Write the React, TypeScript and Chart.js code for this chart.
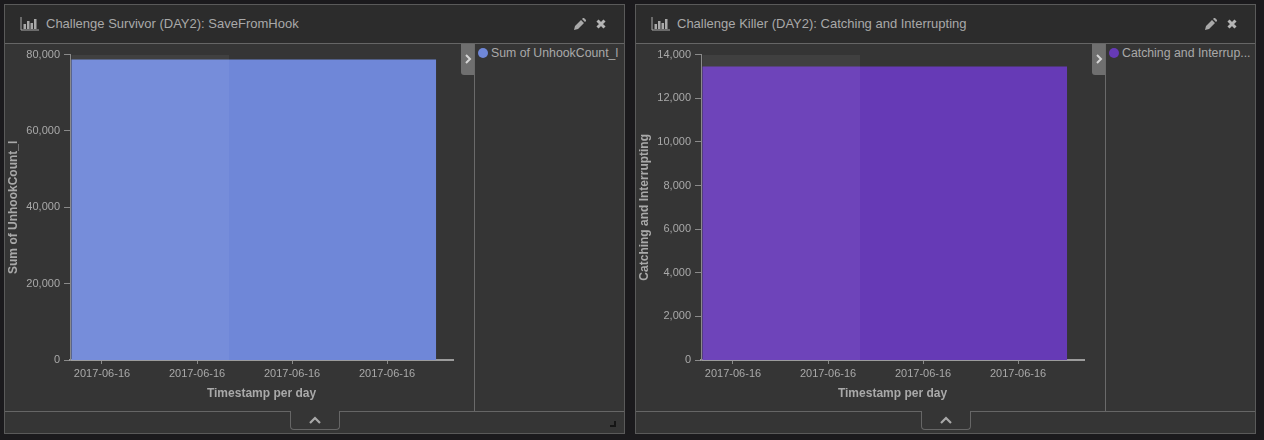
import React, { useEffect, useRef } from "react";
import { Chart, registerables } from "chart.js";

Chart.register(...registerables);

const dateTickPositions = [3, 6, 9, 12];
const dateTickLabel = "2017-06-16";
const xAxisRange = [1.99, 14.08];
const barSpan = [2.03, 13.55];
const hoverSpan = [2.03, 7.01];
const survivorValue = 78700;
const killerValue = 13450;
const survivorMax = 80000;
const killerMax = 14000;
const survivorStep = 20000;
const killerStep = 2000;

const FONT = "'Liberation Sans', Arial, sans-serif";

function Plot({ value, max, step, color, yTitle }: { value: number; max: number; step: number; color: string; yTitle: string }) {
  const ref = useRef<HTMLCanvasElement>(null);
  useEffect(() => {
    const chart = new Chart(ref.current!, {
      type: "line",
      data: {
        datasets: [
          {
            data: hoverSpan.map((x) => ({ x, y: max })),
            borderWidth: 0,
            pointRadius: 0,
            backgroundColor: "rgba(255,255,255,0.055)",
            fill: "origin",
          },
          {
            data: barSpan.map((x) => ({ x, y: value })),
            borderWidth: 0,
            pointRadius: 0,
            backgroundColor: color,
            fill: "origin",
          },
        ],
      },
      options: {
        responsive: false,
        animation: false,
        layout: { padding: { top: 10, right: 9, bottom: 4, left: 0 } },
        plugins: { legend: { display: false }, tooltip: { enabled: false } },
        scales: {
          x: {
            type: "linear",
            min: xAxisRange[0],
            max: xAxisRange[1],
            afterBuildTicks: (s: any) => {
              s.ticks = dateTickPositions.map((v) => ({ value: v }));
            },
            afterFit: (s: any) => {
              s.height = 47;
            },
            grid: { drawOnChartArea: false, color: "#8a8a8a", tickLength: 4 },
            border: { color: "#9c9c9c", width: 2 },
            ticks: {
              autoSkip: false,
              maxRotation: 0,
              padding: 3,
              color: "#a9a9a9",
              font: { family: FONT, size: 11 },
              callback: () => dateTickLabel,
            },
            title: {
              display: true,
              text: "Timestamp per day",
              color: "#a9a9a9",
              font: { family: FONT, size: 12, weight: "bold" },
              padding: { top: 5, bottom: 6 },
            },
          },
          y: {
            min: 0,
            max,
            afterFit: (s: any) => {
              s.width = 64;
            },
            grid: { drawOnChartArea: false, color: "#8a8a8a", tickLength: 6 },
            border: { color: "#8a8a8a", width: 1 },
            ticks: {
              stepSize: step,
              padding: 4,
              color: "#a9a9a9",
              font: { family: FONT, size: 11 },
              callback: (v: any) => Number(v).toLocaleString("en-US"),
            },
            title: {
              display: true,
              text: yTitle,
              color: "#a9a9a9",
              font: { family: FONT, size: 12, weight: "bold" },
              padding: { top: 0, bottom: 0 },
            },
          },
        },
      },
    } as any);
    return () => chart.destroy();
  }, []);
  return <canvas ref={ref} width={456} height={367} style={{ position: "absolute", left: 1, top: 39, display: "block" }} />;
}

const abs = (o: React.CSSProperties): React.CSSProperties => ({ position: "absolute", ...o });

function Panel({ left, title, legend, legendColor, value, max, step, color, yTitle, resize }: any) {
  return (
    <div style={abs({ left, top: 4, width: 621, height: 430, background: "#353535", border: "1px solid #5a5a5a", boxSizing: "border-box", fontFamily: FONT })}>
      <div style={abs({ left: 0, top: 0, width: 619, height: 39, background: "#2c2c2c", borderBottom: "1px solid #666", boxSizing: "border-box" })} />
      <svg width="20" height="16" style={abs({ left: 15, top: 11 })} viewBox="0 0 20 16">
        <path d="M1 1v13h18" fill="none" stroke="#a9a9a9" strokeWidth="1" />
        <path d="M3.500 8h2.500v5H3.500zM7 5h2.500v8H7zM10.500 7h2.500v6h-2.500zM14 3h2.500v10H14z" fill="#a9a9a9" />
      </svg>
      <div style={abs({ left: 41, top: 11, color: "#a9a9a9", fontSize: 13, lineHeight: "16px", whiteSpace: "nowrap" })}>{title}</div>
      <svg width="12" height="12" style={abs({ left: 569, top: 13 })} viewBox="0 0 12 12">
        <path d="M0 12l1-4 6-6 3 3-6 6zM8 1l1-1h1l2 2v1l-1 1z" fill="#a9a9a9" />
      </svg>
      <svg width="10" height="10" style={abs({ left: 591, top: 14 })} viewBox="0 0 10 10">
        <path d="M1.500 1.500l7 7M8.500 1.500l-7 7" stroke="#b5b5b5" strokeWidth="3" />
      </svg>
      <Plot value={value} max={max} step={step} color={color} yTitle={yTitle} />
      <div style={abs({ left: 456, top: 39, width: 13, height: 31, background: "#6f6f6f", borderRadius: "0 0 0 3px" })} />
      <svg width="8" height="10" style={abs({ left: 459, top: 49 })} viewBox="0 0 8 10">
        <path d="M2 1l4 4-4 4" fill="none" stroke="#d5d5d5" strokeWidth="2" />
      </svg>
      <div style={abs({ left: 469, top: 39, width: 1, height: 367, background: "#6a6a6a" })} />
      <div style={abs({ left: 473, top: 43, width: 10, height: 10, borderRadius: 5, background: legendColor })} />
      <div style={abs({ left: 486, top: 40, color: "#a9a9a9", fontSize: 12.3, lineHeight: "16px", whiteSpace: "nowrap" })}>{legend}</div>
      <div style={abs({ left: 0, top: 406, width: 619, height: 1, background: "#666" })} />
      <div style={abs({ left: 285, top: 406, width: 50, height: 19, background: "#353535", border: "1px solid #666", borderTop: "none", borderRadius: "0 0 4px 4px", boxSizing: "border-box" })} />
      <svg width="12" height="8" style={abs({ left: 304, top: 411 })} viewBox="0 0 12 8">
        <path d="M1 7l5-5 5 5" fill="none" stroke="#a9a9a9" strokeWidth="2.200" />
      </svg>
      {resize && (
        <svg width="6" height="6" style={abs({ left: 605, top: 416 })} viewBox="0 0 6 6">
          <path d="M4 0h2v6H0V4h4z" fill="#151515" />
        </svg>
      )}
    </div>
  );
}

export default function App() {
  return (
    <div style={{ position: "fixed", left: 0, top: 0, width: 1264, height: 440, background: "#1b1a1d", overflow: "hidden" }}>
      <Panel left={4} title="Challenge Survivor (DAY2): SaveFromHook" legend="Sum of UnhookCount_l" legendColor="#6f87d8" value={survivorValue} max={survivorMax} step={survivorStep} color="#6f87d8" yTitle="Sum of UnhookCount_l" resize />
      <Panel left={635} title="Challenge Killer (DAY2): Catching and Interrupting" legend="Catching and Interrup..." legendColor="#663ab6" value={killerValue} max={killerMax} step={killerStep} color="#663ab6" yTitle="Catching and Interrupting" />
    </div>
  );
}
